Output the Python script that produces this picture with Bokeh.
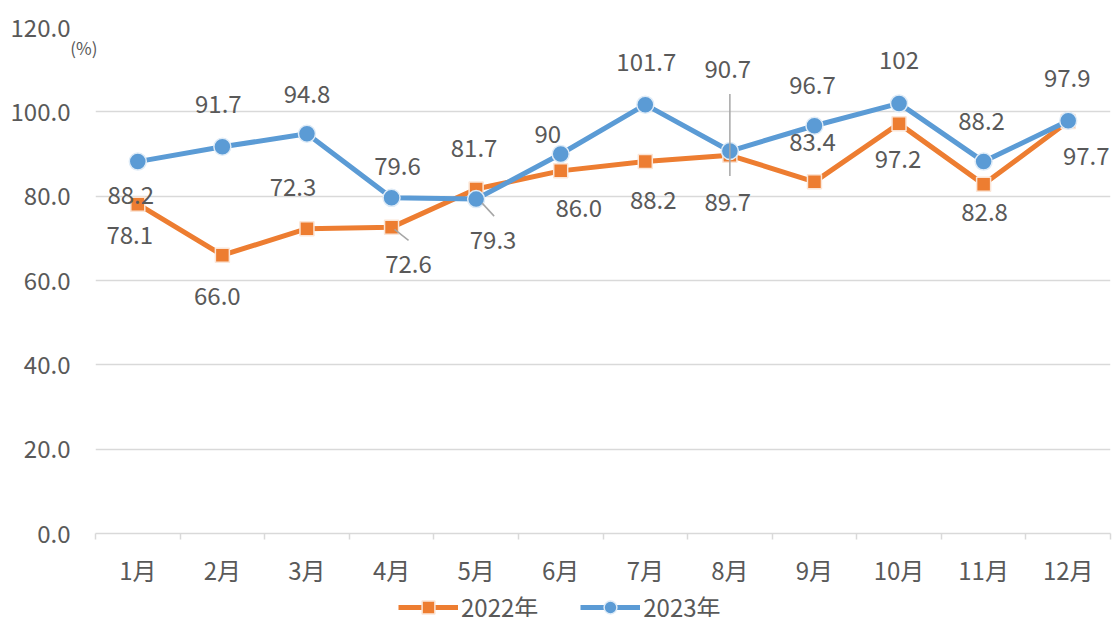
from bokeh.plotting import figure
from bokeh.layouts import column
from bokeh.models import (Range1d, FixedTicker, PrintfTickFormatter, LabelSet, LinearAxis, Grid,
                          ColumnDataSource, Legend, LegendItem)
from bokeh.core.properties import value
from bokeh.embed import file_html
from bokeh.resources import INLINE

# ---- data ----
months = ["1月", "2月", "3月", "4月", "5月", "6月", "7月", "8月", "9月", "10月", "11月", "12月"]
y_ticks = [0, 20, 40, 60, 80, 100, 120]
series_2022 = [78.1, 66.0, 72.3, 72.6, 81.7, 86.0, 88.2, 89.7, 83.4, 97.2, 82.8, 97.7]
series_2023 = [88.2, 91.7, 94.8, 79.6, 79.3, 90, 101.7, 90.7, 96.7, 102, 88.2, 97.9]
name_2022 = "2022年"
name_2023 = "2023年"
unit_label = "(%)"

# ---- style / label placement (screen px: dx right, dy down) ----
off_2022 = [(-8, 31), (-5, 41), (-14, -42), (17, 37), (-2, -41), (18, 37),
            (8, 38), (-2, 47), (-2, -40), (-1, 35), (1, 28), (18, 34)]
off_2023 = [(-7, 33), (-4, -43), (0, -40), (6, -32), (17, 41), (-13, -20),
            (1, -43), (-2, -82), (-2, -41), (0, -43), (-2, -41), (-1, -43)]
# leader lines: (series, index, (dx0, dy0), (dx1, dy1))
leaders = [("2022", 3, (3, 2), (17, 13)), ("2023", 4, (6, 4), (18, 17)),
           ("2023", 7, (0, -57), (0, 25))]
unit_dy = 20  # px below the top tick

ORANGE = "#ED7D31"
BLUE = "#5B9BD5"
GRAY_TXT = "#595959"
GRID = "#D9D9D9"
FONT = "Noto Sans CJK JP"

W = 1116
LEG_H = 28
H = 617 - LEG_H
LEFT, TOP, RIGHT, BOTTOM = 95, 27, 6, 56
FW = W - LEFT - RIGHT
FH = H - TOP - BOTTOM
n = len(months)
xs = [i + 0.5 for i in range(n)]
px_x = FW / n
px_y = FH / (y_ticks[-1] - y_ticks[0])

p = figure(width=W, height=H, output_backend="svg", toolbar_location=None,
           x_range=Range1d(0, n), y_range=Range1d(y_ticks[0], y_ticks[-1]),
           y_axis_location=None,
           min_border_left=LEFT, min_border_top=TOP, min_border_right=RIGHT,
           min_border_bottom=BOTTOM)
p.outline_line_color = None
p.background_fill_color = "white"
p.border_fill_color = "white"
p.xgrid.visible = False
p.ygrid.visible = False

p.add_layout(Grid(dimension=1, ticker=FixedTicker(ticks=y_ticks),
                  grid_line_color=GRID, grid_line_width=1.5))

# inner left axis: "(%)" unit text
unit_axis = LinearAxis(ticker=FixedTicker(ticks=[y_ticks[-1] - unit_dy / px_y]),
                       major_label_overrides={y_ticks[-1] - unit_dy / px_y: unit_label},
                       axis_line_color=None, major_tick_line_color=None,
                       minor_tick_line_color=None, major_tick_out=0, major_tick_in=0,
                       major_label_standoff=-2,
                       major_label_text_font=FONT, major_label_text_font_size="17px",
                       major_label_text_color=GRAY_TXT)
p.add_layout(unit_axis, "left")

main_y = LinearAxis(ticker=FixedTicker(ticks=y_ticks),
                    formatter=PrintfTickFormatter(format="%.1f"),
                    axis_line_color=None, major_tick_line_color=None,
                    minor_tick_line_color=None, major_tick_out=0, major_tick_in=0,
                    major_label_standoff=-3,
                    major_label_text_font=FONT, major_label_text_font_size="24px",
                    major_label_text_color=GRAY_TXT)
p.add_layout(main_y, "left")

p.xaxis.ticker = FixedTicker(ticks=xs, minor_ticks=list(range(n + 1)))
p.xaxis.major_label_overrides = {x: m for x, m in zip(xs, months)}
p.xaxis.axis_line_color = GRID
p.xaxis.axis_line_width = 1.5
p.xaxis.major_tick_line_color = None
p.xaxis.minor_tick_line_color = GRID
p.xaxis.minor_tick_line_width = 1.5
p.xaxis.minor_tick_out = 6
p.xaxis.minor_tick_in = 0
p.xaxis.major_tick_out = 0
p.xaxis.major_tick_in = 0
p.xaxis.major_label_standoff = 12
p.xaxis.major_label_text_font = FONT
p.xaxis.major_label_text_font_size = "24px"
p.xaxis.major_label_text_color = GRAY_TXT

# series
src22 = ColumnDataSource(dict(x=xs, y=series_2022,
                              t=[f"{v:.1f}" for v in series_2022],
                              dx=[o[0] for o in off_2022], dy=[-o[1] for o in off_2022]))
src23 = ColumnDataSource(dict(x=xs, y=series_2023,
                              t=[f"{v:g}" for v in series_2023],
                              dx=[o[0] for o in off_2023], dy=[-o[1] for o in off_2023]))

line22 = dict(line_color=ORANGE, line_width=5)
mark22 = dict(marker="square", size=14, fill_color=ORANGE, line_color="#FBE5D6", line_width=1.5)
line23 = dict(line_color=BLUE, line_width=5)
mark23 = dict(marker="circle", size=17, fill_color=BLUE, line_color="#DEEBF7", line_width=1.5)

p.line("x", "y", source=src22, **line22)
p.scatter("x", "y", source=src22, **mark22)
p.line("x", "y", source=src23, **line23)
p.scatter("x", "y", source=src23, **mark23)

# leader lines
vals = {"2022": series_2022, "2023": series_2023}
x0s, y0s, x1s, y1s = [], [], [], []
for s, i, (a, b), (c, d) in leaders:
    v = vals[s][i]
    x0s.append(xs[i] + a / px_x); y0s.append(v - b / px_y)
    x1s.append(xs[i] + c / px_x); y1s.append(v - d / px_y)
p.segment(x0s, y0s, x1s, y1s, line_color="#A6A6A6", line_width=1.5)

for src in (src22, src23):
    p.add_layout(LabelSet(x="x", y="y", text="t", source=src, x_offset="dx", y_offset="dy",
                          text_align="center", text_baseline="middle",
                          text_font=value(FONT), text_font_size=value("24px"),
                          text_color=GRAY_TXT))

# ---- legend strip (same series, drawn outside its view so only the legend shows) ----
lg = figure(width=W, height=LEG_H, output_backend="svg", toolbar_location=None,
            x_range=Range1d(0, n), y_range=Range1d(-2, -1),
            x_axis_location=None, y_axis_location=None,
            min_border_left=LEFT, min_border_right=RIGHT, min_border_top=0, min_border_bottom=0)
lg.outline_line_color = None
lg.xgrid.visible = False
lg.ygrid.visible = False
gl22 = lg.line("x", "y", source=src22, **line22)
gm22 = lg.scatter("x", "y", source=src22, **mark22)
gl23 = lg.line("x", "y", source=src23, **line23)
gm23 = lg.scatter("x", "y", source=src23, **mark23)
legend = Legend(items=[LegendItem(label=name_2022, renderers=[gl22, gm22]),
                       LegendItem(label=name_2023, renderers=[gl23, gm23])],
                orientation="horizontal", location=(303, -7),
                glyph_width=60, glyph_height=32, label_height=24, label_standoff=3,
                spacing=42, padding=0, margin=0,
                border_line_color=None, background_fill_alpha=0,
                label_text_font=FONT, label_text_font_size="24px",
                label_text_color=GRAY_TXT)
lg.add_layout(legend)

open("out.html", "w").write(file_html(column(p, lg, spacing=0), INLINE))
